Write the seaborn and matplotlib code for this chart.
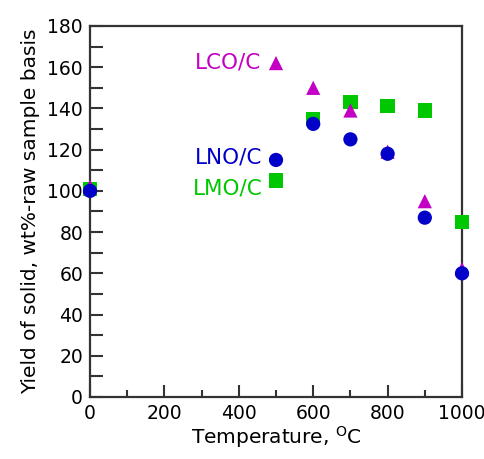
import matplotlib
matplotlib.use("Agg")
import matplotlib.pyplot as plt
import seaborn as sns
import pandas as pd
from matplotlib.ticker import MultipleLocator

temperature = [0, 500, 600, 700, 800, 900, 1000]
lmo_yield = [101, 105, 135, 143, 141, 139, 85]
lco_yield = [102, 162, 150, 139, 119, 95, 62]
lno_yield = [100, 115, 132.5, 125, 118, 87, 60]
series_names = ["LMO/C", "LCO/C", "LNO/C"]

rows = []
for name, vals in zip(series_names, [lmo_yield, lco_yield, lno_yield]):
    for t, v in zip(temperature, vals):
        rows.append({"Temperature": t, "Yield": v, "Sample": name})
df = pd.DataFrame(rows)

colors = {"LMO/C": "#00C800", "LCO/C": "#C400C4", "LNO/C": "#0000C8"}
markers = {"LMO/C": "s", "LCO/C": "^", "LNO/C": "o"}

sns.set_theme(style="ticks")
plt.rcParams['font.family'] = ['DejaVu Sans']

fig = plt.figure(figsize=(4.85, 4.59), dpi=100)
ax = fig.add_axes([0.1856, 0.1351, 0.767, 0.8083])

sns.scatterplot(data=df, x="Temperature", y="Yield", hue="Sample", style="Sample",
                palette=colors, markers=markers, hue_order=series_names,
                style_order=series_names, s=105, linewidth=0, legend=False,
                ax=ax, clip_on=False, zorder=3)

ax.set_xlim(0, 1000)
ax.set_ylim(0, 180)
ax.xaxis.set_major_locator(MultipleLocator(200))
ax.xaxis.set_minor_locator(MultipleLocator(100))
ax.yaxis.set_major_locator(MultipleLocator(20))
ax.yaxis.set_minor_locator(MultipleLocator(10))
ax.tick_params(axis="both", which="both", direction="in", top=False, right=False,
               width=1.5, color="#333333", labelsize=13.5, labelcolor="black", pad=5)
ax.tick_params(axis="x", which="major", length=9)
ax.tick_params(axis="x", which="minor", length=5)
ax.tick_params(axis="y", which="both", length=9)
for sp in ax.spines.values():
    sp.set_linewidth(1.6)
    sp.set_color("#333333")

ax.set_xlabel("Temperature, $^{\\mathrm{O}}$C", fontsize=14.5, color="black", labelpad=1)
ax.set_ylabel("Yield of solid, wt%-raw sample basis", fontsize=14.5, color="black", labelpad=5)

label_pos = {"LCO/C": (460, 162.5), "LNO/C": (463, 116), "LMO/C": (463, 101)}
for name in series_names:
    x, y = label_pos[name]
    ax.text(x, y, name, color=colors[name], fontsize=15.5, ha="right", va="center")

fig.savefig("out.png", dpi=100)
